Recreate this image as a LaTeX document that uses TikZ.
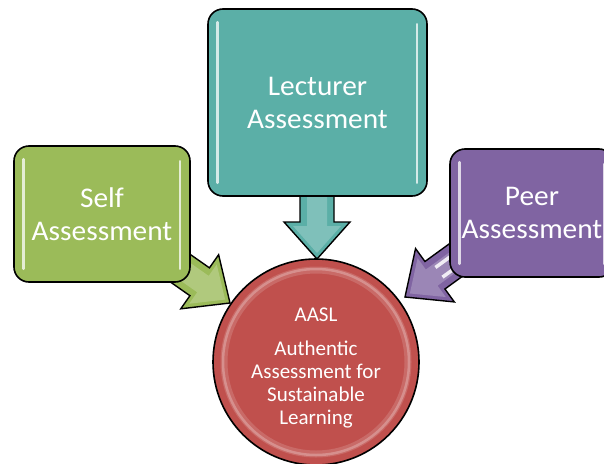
\documentclass[tikz,border=0pt]{standalone}
\usepackage{fontspec}
\setmainfont{Carlito}
\newfontfamily\boxfont[FakeStretch=1.03]{Carlito}
\definecolor{selfgreen}{HTML}{9BBB59}
\definecolor{lectteal}{HTML}{5BAFA7}
\definecolor{peerpurple}{HTML}{8064A2}
\definecolor{aaslred}{HTML}{C0504D}
\tikzset{
  box/.style={draw=black, line width=1.6pt, rounded corners=15pt, text=white,
    align=center, font=\boxfont\fontsize{28.5}{33}\selectfont, inner sep=0pt},
  hilite/.style={white, line width=2.6pt, opacity=.75, line cap=round},
  arrowshape/.style={draw=black, line width=1.4pt, line join=miter},
  pics/fatarrow/.style={code={
    \path[pic actions] (0,0) -- (-37,33) -- (-37,17) -- (-115,17) -- (-115,-17)
      -- (-37,-17) -- (-37,-33) -- cycle;
  }},
  pics/arrowgloss/.style={code={
    \fill[white, opacity=.22] (-6,0) -- (-33,24) -- (-33,10) -- (-115,10) -- (-115,-10)
      -- (-33,-10) -- (-33,-24) -- cycle;
  }}
}
\begin{document}
\begin{tikzpicture}[x=1pt,y=-1pt]
\clip (0,0) rectangle (604,463);
\fill[white] (0,0) rectangle (604,463);

% block arrows (drawn under the boxes)
\pic[arrowshape, fill=selfgreen, rotate=-35] at (230,303) {fatarrow};
\pic[rotate=-35] at (230,303) {arrowgloss};
\pic[arrowshape, fill=lectteal, rotate=-90] at (317,259) {fatarrow};
\pic[rotate=-90] at (317,259) {arrowgloss};
\pic[arrowshape, fill=peerpurple, rotate=-144] at (405,297) {fatarrow};
\pic[rotate=-144] at (405,297) {arrowgloss};
\begin{scope}[shift={(405,297)}, rotate=-144]
  \draw[white, line width=3.5pt, opacity=.85] (-42,6) -- (-78,6);
  \draw[white, line width=3.5pt, opacity=.85] (-42,-6) -- (-78,-6);
\end{scope}

% boxes
\node[box, fill=selfgreen, minimum width=176pt, minimum height=136pt] (self) at (102,214) {Self\\Assessment};
\node[box, fill=lectteal, minimum width=219pt, minimum height=187pt] (lect) at (317.5,102.5) {Lecturer\\Assessment};
\node[box, fill=peerpurple, minimum width=164pt, minimum height=128pt] (peer) at (532,213) {Peer\\Assessment};

% glossy highlights
\foreach \b in {self, lect, peer}{
  \draw[hilite] ([xshift=10pt,yshift=-14pt]\b.north west) -- ([xshift=10pt,yshift=14pt]\b.south west);
  \draw[hilite] ([xshift=-11pt,yshift=-16pt]\b.north east) -- ([xshift=-11pt,yshift=14pt]\b.south east);
}

% centre circle
\node[circle, draw=black, line width=1.6pt, fill=aaslred, minimum size=206pt, inner sep=0pt] (aasl) at (316,362) {};
\draw[white, opacity=.15, line width=7pt] (aasl.center) circle[radius=92pt];
\draw[white, opacity=.25, line width=2.5pt] (aasl.center) circle[radius=93pt];
\node[text=white, align=center, font=\fontsize{21}{23}\selectfont] (aasltext) at (316,368)
  {AASL\\[11pt]Authentic\\Assessment for\\Sustainable\\Learning};
\end{tikzpicture}
\end{document}
